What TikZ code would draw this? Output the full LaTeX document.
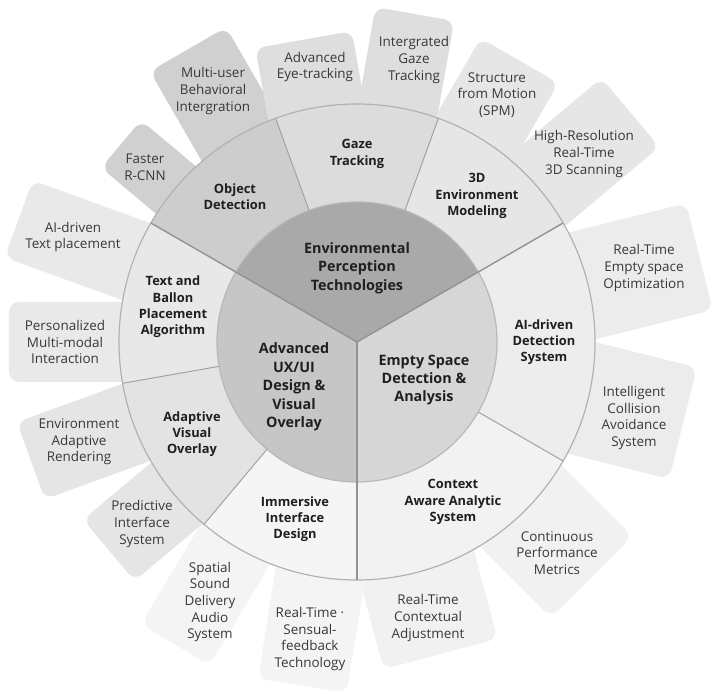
\documentclass[tikz,border=0pt]{standalone}
\usepackage{fontspec}
\setmainfont{Open Sans}
\definecolor{cIn1}{HTML}{A9A9A9}
\definecolor{cIn2}{HTML}{C6C6C6}
\definecolor{cIn3}{HTML}{D6D6D6}
\definecolor{cOD}{HTML}{CDCDCD}
\definecolor{cGT}{HTML}{DCDCDC}
\definecolor{c3D}{HTML}{E6E6E6}
\definecolor{cAI}{HTML}{EDEDED}
\definecolor{cCA}{HTML}{F2F2F2}
\definecolor{cII}{HTML}{F5F5F5}
\definecolor{cAV}{HTML}{E3E3E3}
\definecolor{cTB}{HTML}{E8E8E8}
\definecolor{kOD}{HTML}{D0D0D0}
\definecolor{kGT}{HTML}{DEDEDE}
\definecolor{k3D}{HTML}{E6E6E6}
\definecolor{kAI}{HTML}{ECECEC}
\definecolor{kCA}{HTML}{F1F1F1}
\definecolor{kII}{HTML}{F4F4F4}
\definecolor{kAV}{HTML}{E5E5E5}
\definecolor{kTB}{HTML}{E9E9E9}
\definecolor{lineC}{HTML}{929292}
\definecolor{txtC}{HTML}{383838}
\newcommand\mycard[4]{\fill[#4, rounded corners=10bp, rotate=#1] (180,{-(#3)/2}) rectangle (#2,{(#3)/2});}
\newcommand\mysector[4]{\fill[#4] (0,0) -- (#1:#3) arc[start angle=#1, end angle=#2, radius=#3] -- cycle;}
\begin{document}
\begin{tikzpicture}[x=1bp,y=1bp,
  cardtxt/.style={align=center, text=txtC, font=\fontsize{13.5}{16.6}\selectfont, inner sep=0pt},
  ringtxt/.style={align=center, text=black!88, font=\fontsize{12.9}{16.3}\selectfont\bfseries, inner sep=0pt},
  coretxt/.style={align=center, text=black!88, font=\fontsize{14.4}{18.5}\selectfont\bfseries, inner sep=0pt},
  mainline/.style={draw=lineC, line width=1.4bp},
  segline/.style={draw=lineC!85, line width=1bp}]
\useasboundingbox (-357,-356) rectangle (358,342);
% cards
\mycard{140}{308}{62}{kOD}
\mycard{120}{338}{88}{kOD}
\mycard{100}{307}{98}{kGT}
\mycard{80}{333}{80}{kGT}
\mycard{60}{325}{90}{k3D}
\mycard{40}{357}{90}{k3D}
\mycard{14}{353}{110}{kAI}
\mycard{-14}{336}{115}{kAI}
\mycard{-45}{332}{115}{kCA}
\mycard{-75}{323}{118}{kCA}
\mycard{-99}{348}{90}{kII}
\mycard{-121}{353}{80}{kII}
\mycard{220}{324}{80}{kAV}
\mycard{200}{347}{82}{kAV}
\mycard{180}{348}{80}{kTB}
\mycard{160}{360}{82}{kTB}
% ring
\mysector{110}{150}{238}{cOD}
\mysector{70}{110}{238}{cGT}
\mysector{30}{70}{238}{c3D}
\mysector{-30}{30}{238}{cAI}
\mysector{-90}{-30}{238}{cCA}
\mysector{230}{270}{238}{cII}
\mysector{190}{230}{238}{cAV}
\mysector{150}{190}{238}{cTB}
% core
\mysector{30}{150}{140}{cIn1}
\mysector{150}{270}{140}{cIn2}
\mysector{-90}{30}{140}{cIn3}
\draw[draw=black!30, line width=1.2bp] (0,0) circle[radius=238];
\draw[draw=black!28, line width=1.2bp] (0,0) circle[radius=140];
\coordinate (c) at (0,0);
\foreach \a in {70,110,190,230,330} {
  \coordinate (s1) at (\a:140); \coordinate (s2) at (\a:238);
  \draw[segline] (s1) -- (s2);
}
\foreach \a in {30,150,270} {
  \coordinate (m2) at (\a:238);
  \draw[mainline] (c) -- (m2);
}
% core labels
\node[coretxt] (core1) at (0,74) {Environmental\\Perception\\Technologies};
\node[coretxt] (core2) at (-63,-45) {Advanced\\UX/UI\\Design \&\\Visual\\Overlay};
\node[coretxt] (core3) at (67,-38) {Empty Space\\Detection \&\\Analysis};
% ring labels
\node[ringtxt] (r1) at (-122,145) {Object\\Detection};
\node[ringtxt] (r2) at (0,188) {Gaze\\Tracking};
\node[ringtxt] (r3) at (120,146) {3D\\Environment\\Modeling};
\node[ringtxt] (r4) at (187,0) {AI-driven\\Detection\\System};
\node[ringtxt] (r5) at (96,-160) {Context\\Aware Analytic\\System};
\node[ringtxt] (r6) at (-62,-177) {Immersive\\Interface\\Design};
\node[ringtxt] (r7) at (-165,-92) {Adaptive\\Visual\\Overlay};
\node[ringtxt] (r8) at (-184,35) {Text and\\Ballon\\Placement\\Algorithm};
% card labels
\node[cardtxt] (k1) at (-212,175) {Faster\\R-CNN};
\node[cardtxt] (k2) at (-144,251) {Multi-user\\Behavioral\\Intergration};
\node[cardtxt] (k3) at (-42,275) {Advanced\\Eye-tracking};
\node[cardtxt] (k4) at (57,282) {Intergrated\\Gaze\\Tracking};
\node[cardtxt] (k5) at (140,247) {Structure\\from Motion\\(SPM)};
\node[cardtxt] (k6) at (227,188) {High-Resolution\\Real-Time\\3D Scanning};
\node[cardtxt] (k7) at (287,74) {Real-Time\\Empty space\\Optimization};
\node[cardtxt] (k8) at (277,-76) {Intelligent\\Collision\\Avoidance\\System};
\node[cardtxt] (k9) at (200,-211) {Continuous\\Performance\\Metrics};
\node[cardtxt] (k10) at (71,-276) {Real-Time\\Contextual\\Adjustment};
\node[cardtxt] (k11) at (-47,-297) {Real-Time ·\\Sensual-\\feedback\\Technology};
\node[cardtxt] (k12) at (-147,-260) {Spatial\\Sound\\Delivery\\Audio\\System};
\node[cardtxt] (k13) at (-215,-182) {Predictive\\Interface\\System};
\node[cardtxt] (k14) at (-278,-100) {Environment\\Adaptive\\Rendering};
\node[cardtxt] (k15) at (-292,0) {Personalized\\Multi-modal\\Interaction};
\node[cardtxt] (k16) at (-284,105) {AI-driven\\Text placement};
\end{tikzpicture}
\end{document}
